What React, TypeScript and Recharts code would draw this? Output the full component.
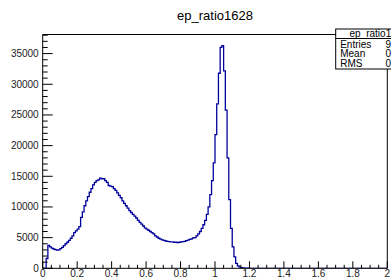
// ep_ratio1628 — ROOT-style step histogram redrawn with Recharts.
// Frame, ticks and stats box mimic the TCanvas look (ticks inside the frame).

import { LineChart, Line, XAxis, YAxis } from 'recharts';

const W = 391;
const H = 278;
const BIN_WIDTH = 0.01;
const X_MAX = 2;
const Y_MAX = 38115;
const LINE_COLOR = '#00009c';
const FONT = '"Liberation Sans", Arial, Helvetica, sans-serif';

// bin contents, 200 bins of 0.01 from 0 to 2
const HIST_COUNTS = [
  0, 0, 1600, 3750, 3500, 3300, 3150, 3050, 2950, 3000,
  3200, 3400, 3700, 4000, 4250, 4550, 4900, 5300, 5800, 6100,
  6400, 6800, 8300, 9200, 10200, 11000, 11700, 12400, 13000, 13600,
  14000, 14300, 14400, 14700, 14600, 14600, 14300, 14000, 13500, 13400,
  13300, 13000, 12700, 12300, 11900, 11500, 11000, 10600, 10200, 9800,
  9400, 9100, 8800, 8500, 8200, 7800, 7500, 7200, 6900, 6600,
  6400, 6200, 6000, 5800, 5600, 5300, 5100, 4900, 4750, 4650,
  4550, 4450, 4400, 4350, 4300, 4300, 4250, 4250, 4200, 4250,
  4300, 4350, 4400, 4500, 4600, 4700, 4800, 4950, 5000, 5300,
  5600, 6000, 6500, 7100, 7800, 8800, 10000, 12000, 14300, 17200,
  21800, 26800, 31800, 36000, 36300, 32200, 25800, 18000, 11200, 6500,
  3500, 1850, 800, 400, 200, 100, 60, 30, 20, 10,
  0, 0, 0, 0, 0, 0, 0, 0, 0, 0,
  0, 0, 0, 0, 0, 0, 0, 0, 0, 0,
  0, 0, 0, 0, 0, 0, 0, 0, 0, 0,
  0, 0, 0, 0, 0, 0, 0, 0, 0, 0,
  0, 0, 0, 0, 0, 0, 0, 0, 0, 0,
  0, 0, 0, 0, 0, 0, 0, 0, 0, 0,
  0, 0, 0, 0, 0, 0, 0, 0, 0, 0,
  0, 0, 0, 0, 0, 0, 0, 0, 0, 0,
];

const X_LABELS = ['0', '0.2', '0.4', '0.6', '0.8', '1', '1.2', '1.4', '1.6', '1.8', '2'];
const Y_LABELS = ['0', '5000', '10000', '15000', '20000', '25000', '30000', '35000'];

const TITLE = 'ep_ratio1628';
const STATS_NAME = 'ep_ratio1628';
const STATS_ROWS = [
  { label: 'Entries', value: '9.746e+05' },
  { label: 'Mean', value: '0.6402' },
  { label: 'RMS', value: '0.3271' },
];

// step line: point at each bin's low edge, closing point at the upper edge
const data = [
  ...HIST_COUNTS.map((c, i) => ({ x: +(i * BIN_WIDTH).toFixed(2), c })),
  { x: X_MAX, c: HIST_COUNTS[HIST_COUNTS.length - 1] },
];

const X_TICKS = Array.from({ length: 41 }, (_, i) => +(i * 0.05).toFixed(2));
const Y_TICKS = Array.from({ length: 39 }, (_, i) => i * 1000).filter((v) => v <= Y_MAX);

const isMultiple = (v: number, step: number) => Math.abs(v / step - Math.round(v / step)) < 1e-6;

function XTick({ x, y, payload }: any) {
  const v = payload.value as number;
  const major = isMultiple(v, 0.2);
  const label = major ? X_LABELS[Math.round(v / 0.2)] : null;
  return (
    <g>
      <line x1={x} x2={x} y1={y} y2={y - (major ? 7 : 3.5)} stroke="#000" />
      {label != null && (
        <text x={x} y={y + 9} textAnchor="middle" fontSize={10} fontFamily={FONT} fill="#222">{label}</text>
      )}
    </g>
  );
}

function YTick({ x, y, payload }: any) {
  const v = payload.value as number;
  const major = isMultiple(v, 5000);
  const label = major ? Y_LABELS[Math.round(v / 5000)] : null;
  return (
    <g>
      <line x1={x} x2={x + (major ? 10 : 5)} y1={y} y2={y} stroke="#000" />
      {label != null && (
        <text x={x - 4} y={y + 3.5} textAnchor="end" fontSize={10} fontFamily={FONT} fill="#222">{label}</text>
      )}
    </g>
  );
}

function Overlay() {
  const bx = 335.7;
  const by = 29;
  const rowH = 9.8;
  return (
    <svg width={W} height={H} style={{ position: 'absolute', left: 0, top: 0, pointerEvents: 'none' }}>
      <text x={215} y={20} textAnchor="middle" fontSize={13} fontFamily={FONT} fill="#000">{TITLE}</text>
      <rect x={bx} y={by} width={80} height={40} fill="#fff" stroke="#000" />
      <line x1={bx} x2={W} y1={by + 9.5} y2={by + 9.5} stroke="#000" />
      <text x={349.5} y={by + 8} fontSize={10} fontFamily={FONT} fill="#000">{STATS_NAME}</text>
      {STATS_ROWS.map((r, i) => (
        <g key={r.label}>
          <text x={bx + 4.5} y={by + 18.5 + i * rowH} fontSize={10} fontFamily={FONT} fill="#000">{r.label}</text>
          <text x={385.5} y={by + 18.5 + i * rowH} fontSize={10} fontFamily={FONT} fill="#000">{r.value}</text>
        </g>
      ))}
    </svg>
  );
}

export default function App() {
  return (
    <div style={{ position: 'fixed', left: 0, top: 0, width: W, height: H, background: '#fff' }}>
      <LineChart width={W} height={H} data={data} margin={{ top: 0, right: 0, bottom: 0, left: 0 }}>
        <XAxis
          xAxisId="b" dataKey="x" type="number" domain={[0, X_MAX]} ticks={X_TICKS}
          height={9.7} tickSize={0} tickMargin={0} tickLine={false} interval={0}
          axisLine={{ stroke: '#000' }} tick={<XTick />} allowDataOverflow
        />
        <XAxis
          xAxisId="t" dataKey="x" type="number" domain={[0, X_MAX]} orientation="top"
          height={34.5} tick={false} tickLine={false} axisLine={{ stroke: '#000' }}
        />
        <YAxis
          yAxisId="l" type="number" domain={[0, Y_MAX]} ticks={Y_TICKS} width={42.7}
          tickSize={0} tickMargin={0} tickLine={false} interval={0}
          axisLine={{ stroke: '#000' }} tick={<YTick />} allowDataOverflow
        />
        <YAxis
          yAxisId="r" type="number" domain={[0, Y_MAX]} orientation="right" width={3.7}
          tick={false} tickLine={false} axisLine={{ stroke: '#000' }}
        />
        <Line
          xAxisId="b" yAxisId="l" type="stepAfter" dataKey="c" stroke={LINE_COLOR}
          strokeWidth={1.3} dot={false} activeDot={false} isAnimationActive={false}
        />
      </LineChart>
      <Overlay />
    </div>
  );
}
